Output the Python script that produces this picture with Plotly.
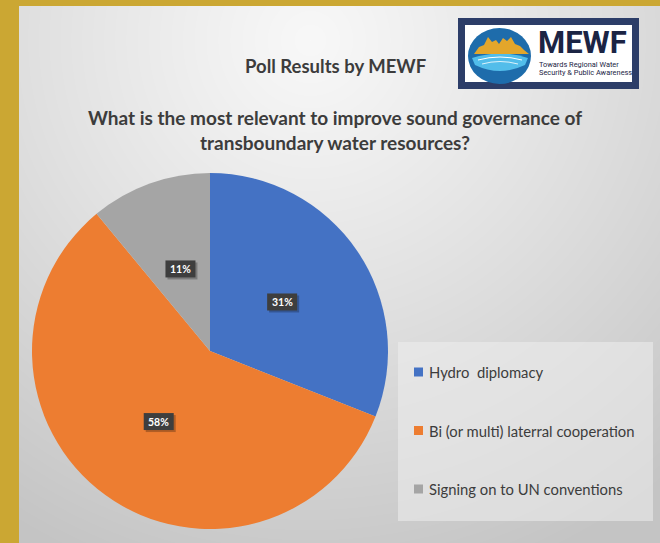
import base64
import math
import struct
import zlib

import numpy as np
import plotly.graph_objects as go

# ---- poll data ----
categories = ["Hydro  diplomacy", "Bi (or multi) laterral cooperation", "Signing on to UN conventions"]
shares = [31, 58, 11]
slice_colors = ["#4472C4", "#ED7D31", "#A5A5A5"]

title_text = "Poll Results by MEWF"
question_lines = [
    "What is the most relevant to improve sound governance of",
    "transboundary water resources?",
]

W, H = 660, 543
GOLD = "#CBA733"
TEXT = "#3C3C3C"


def gray_png_uri(arr):
    """Encode a 2-D uint8 array as a grayscale PNG data URI."""
    h, w = arr.shape
    raw = b"".join(b"\x00" + arr[r].tobytes() for r in range(h))

    def chunk(tag, data):
        return (struct.pack(">I", len(data)) + tag + data
                + struct.pack(">I", zlib.crc32(tag + data) & 0xFFFFFFFF))

    png = (b"\x89PNG\r\n\x1a\n"
           + chunk(b"IHDR", struct.pack(">IIBBBBB", w, h, 8, 0, 0, 0, 0))
           + chunk(b"IDAT", zlib.compress(raw, 9))
           + chunk(b"IEND", b""))
    return "data:image/png;base64," + base64.b64encode(png).decode()


# soft radial backdrop of the slide
bx0, by0 = 19, 6
gw, gh = W - bx0, H - by0
yy, xx = np.mgrid[0:gh, 0:gw]
d = np.hypot(xx + bx0 - 310, yy + by0 - 40)
t = np.clip(d / 570.0, 0, 1)
bg = np.clip(248 - 52 * t ** 1.1, 0, 255).astype(np.uint8)
bg_uri = gray_png_uri(bg)

fig = go.Figure()

# ---- pie ----
cx, cy, R = 210, 351, 178
fig.add_trace(go.Pie(
    labels=categories,
    values=shares,
    sort=False,
    direction="clockwise",
    rotation=0,
    marker=dict(colors=slice_colors, line=dict(width=0)),
    textinfo="none",
    hoverinfo="label+percent",
    showlegend=False,
    domain=dict(x=[(cx - R) / W, (cx + R) / W], y=[1 - (cy + R) / H, 1 - (cy - R) / H]),
))

# invisible scatter so the pixel-space axes exist
fig.add_trace(go.Scatter(x=[0, W], y=[0, H], mode="markers",
                         marker=dict(opacity=0), hoverinfo="skip", showlegend=False))

shapes = []
annotations = []

# gold slide frame
shapes.append(dict(type="rect", xref="x", yref="y", x0=0, x1=bx0, y0=0, y1=H,
                   fillcolor=GOLD, line=dict(width=0), layer="below"))
shapes.append(dict(type="rect", xref="x", yref="y", x0=0, x1=W, y0=0, y1=by0,
                   fillcolor=GOLD, line=dict(width=0), layer="below"))

# ---- percentage labels on slices (dark tag with a soft drop shadow) ----
total = sum(shares)
cum = 0
for v in shares:
    mid = (cum + v / 2) / total * 2 * math.pi
    cum += v
    lx = cx + 0.49 * R * math.sin(mid)
    ly = cy - 0.49 * R * math.cos(mid)
    label = f"{round(100 * v / total)}%"
    shapes.append(dict(type="rect", xref="x", yref="y",
                       x0=lx - 15 + 2, x1=lx + 15 + 2, y0=ly - 8.5 + 2, y1=ly + 8.5 + 2,
                       fillcolor="rgba(0,0,0,0.25)", line=dict(width=0)))
    shapes.append(dict(type="rect", xref="x", yref="y",
                       x0=lx - 15, x1=lx + 15, y0=ly - 8.5, y1=ly + 8.5,
                       fillcolor="#3E3E3E", line=dict(width=0)))
    annotations.append(dict(x=lx, y=ly, xref="x", yref="y", text=f"<b>{label}</b>", showarrow=False,
                            font=dict(family="Lato", size=10.5, color="white")))

# ---- titles ----
annotations.append(dict(x=335, y=66, xref="x", yref="y", text=f"<b>{title_text}</b>",
                        showarrow=False, font=dict(family="Lato", size=18.5, color=TEXT)))
for i, line in enumerate(question_lines):
    annotations.append(dict(x=335, y=117 + 25 * i, xref="x", yref="y", text=f"<b>{line}</b>",
                            showarrow=False, font=dict(family="Lato", size=19, color=TEXT)))

# ---- legend panel ----
shapes.append(dict(type="rect", xref="x", yref="y", x0=398, x1=653, y0=342, y1=521,
                   fillcolor="rgba(238,238,238,0.55)", line=dict(width=0)))
for i, (name, col) in enumerate(zip(categories, slice_colors)):
    ly = 372 + 58.5 * i
    shapes.append(dict(type="rect", xref="x", yref="y", x0=414, x1=423, y0=ly - 4.5, y1=ly + 4.5,
                       fillcolor=col, line=dict(width=0)))
    annotations.append(dict(x=427, y=ly, xref="x", yref="y", xanchor="left",
                            text=name.replace("  ", "\u00a0 "), showarrow=False,
                            font=dict(family="Lato", size=14.8, color=TEXT)))

# ---- MEWF logo ----
shapes.append(dict(type="rect", xref="x", yref="y", x0=458, x1=639, y0=18, y1=89,
                   fillcolor="#2C3D68", line=dict(width=0)))
shapes.append(dict(type="rect", xref="x", yref="y", x0=465, x1=632, y0=25, y1=82,
                   fillcolor="white", line=dict(width=0)))
shapes.append(dict(type="circle", xref="x", yref="y", x0=468, x1=531, y0=28, y1=84,
                   fillcolor="#1E6CAB", line=dict(width=0)))
shapes.append(dict(type="path", xref="x", yref="y",
                   path="M472,58 Q500,49 528,58 L525,65 Q500,77 475,65 Z",
                   fillcolor="#52BDEA", line=dict(width=0)))
shapes.append(dict(type="path", xref="x", yref="y",
                   path="M474,54 L479,47 L484,45 L488,37 L492,42 L496,40 L499,44 L503,38 "
                        "L507,41 L511,37 L515,44 L520,46 L524,50 L529,54 Z",
                   fillcolor="#E3A62B", line=dict(width=0)))
shapes.append(dict(type="path", xref="x", yref="y",
                   path="M478,60 Q500,54 522,60", line=dict(color="white", width=1)))
shapes.append(dict(type="path", xref="x", yref="y",
                   path="M482,64 Q500,59 518,64", line=dict(color="white", width=0.8)))
annotations.append(dict(x=536, y=42, xref="x", yref="y", xanchor="left",
                        text="<b>MEWF</b>", showarrow=False,
                        font=dict(family="Roboto", size=31, color="#1B2444")))
annotations.append(dict(x=537, y=64.5, xref="x", yref="y", xanchor="left",
                        text="Towards Regional Water", showarrow=False,
                        font=dict(family="Roboto", size=7.4, color="#1B2444")))
annotations.append(dict(x=537, y=72.5, xref="x", yref="y", xanchor="left",
                        text="Security &amp; Public Awareness", showarrow=False,
                        font=dict(family="Roboto", size=7.4, color="#1B2444")))

fig.update_layout(
    width=W, height=H, autosize=False,
    margin=dict(l=0, r=0, t=0, b=0),
    paper_bgcolor="white", plot_bgcolor="rgba(0,0,0,0)",
    xaxis=dict(range=[0, W], visible=False, fixedrange=True),
    yaxis=dict(range=[H, 0], visible=False, fixedrange=True),
    images=[dict(source=bg_uri, xref="paper", yref="paper", x=bx0 / W, y=1 - by0 / H,
                 sizex=gw / W, sizey=gh / H, sizing="stretch", xanchor="left",
                 yanchor="top", layer="below")],
    shapes=shapes,
    annotations=annotations,
)

fig.write_html("out.html")
